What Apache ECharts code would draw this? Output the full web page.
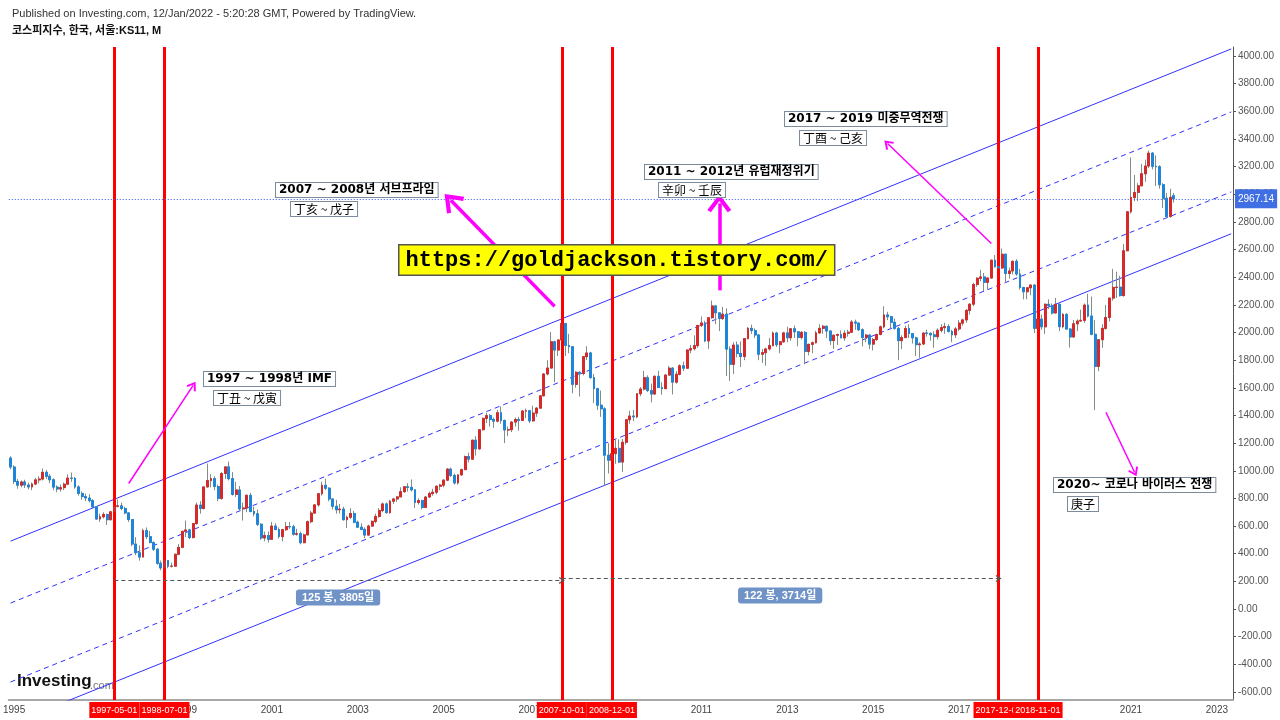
<!DOCTYPE html>
<html>
<head>
<meta charset="utf-8">
<script src="https://cdn.jsdelivr.net/npm/echarts@6/dist/echarts.min.js"></script>
<style>
  html, body { margin: 0; background: #fff; }
  #chart { width: 1280px; height: 720px; }
</style>
</head>
<body>
<div id="chart"></div>
<script>
// 월봉 카테고리 (1994-12 ~ 2023-05)
const months = [];
for (let y = 1994, m = 12; y < 2023 || (y === 2023 && m <= 5);) {
  months.push(y + '-' + String(m).padStart(2, '0'));
  m++;
  if (m > 12) { m = 1; y++; }
}

// KOSPI monthly [open, close, low, high]
const candles = [
  [1092, 1027, 1010, 1105],
  // 1995
  [1027, 923, 905, 1040], [923, 896, 870, 940], [896, 919, 880, 930], [919, 897, 875, 935],
  [897, 883, 865, 915], [883, 904, 860, 915], [904, 934, 895, 950], [934, 940, 910, 960],
  [940, 989, 930, 1016], [989, 960, 940, 1005], [960, 935, 910, 975], [935, 882, 860, 945],
  // 1996
  [882, 868, 845, 895], [868, 878, 850, 900], [878, 903, 860, 915], [903, 947, 895, 975],
  [947, 945, 920, 987], [945, 883, 870, 955], [883, 836, 820, 895], [836, 813, 790, 850],
  [813, 803, 780, 835], [803, 784, 770, 830], [784, 739, 730, 795], [739, 651, 645, 745],
  // 1997
  [651, 667, 630, 690], [667, 684, 655, 700], [684, 646, 608, 690], [646, 703, 640, 710],
  [703, 743, 695, 760], [743, 746, 735, 792], [746, 727, 715, 770], [727, 695, 685, 740],
  [695, 647, 630, 700], [647, 470, 455, 650], [470, 407, 390, 520], [407, 376, 350, 460],
  // 1998
  [376, 567, 374, 580], [567, 523, 505, 590], [523, 481, 475, 565], [481, 433, 420, 490],
  [433, 331, 320, 440], [331, 297, 280, 350], [297, 351, 290, 370], [351, 310, 295, 355],
  [310, 310, 300, 335], [310, 396, 305, 400], [396, 446, 390, 470], [446, 562, 440, 565],
  // 1999
  [562, 572, 520, 640], [572, 517, 505, 580], [517, 618, 510, 620], [618, 752, 610, 770],
  [752, 727, 690, 780], [727, 883, 720, 885], [883, 929, 880, 1052], [929, 943, 880, 975],
  [943, 886, 860, 960], [886, 800, 780, 900], [800, 980, 790, 990], [980, 1028, 940, 1030],
  // 2000
  [1028, 943, 930, 1066], [943, 829, 820, 990], [829, 861, 810, 920], [861, 725, 710, 890],
  [725, 731, 640, 770], [731, 822, 700, 830], [822, 705, 700, 840], [705, 689, 670, 740],
  [689, 613, 600, 720], [613, 514, 500, 620], [514, 532, 490, 560], [532, 504, 480, 560],
  // 2001
  [504, 600, 500, 630], [600, 575, 570, 620], [575, 524, 510, 590], [524, 574, 490, 580],
  [574, 596, 565, 630], [596, 595, 580, 630], [595, 541, 530, 610], [541, 545, 530, 580],
  [545, 480, 468, 560], [480, 536, 475, 545], [536, 632, 535, 640], [632, 694, 620, 710],
  // 2002
  [694, 753, 690, 760], [753, 834, 740, 840], [834, 895, 820, 920], [895, 874, 860, 943],
  [874, 796, 780, 880], [796, 743, 720, 800], [743, 718, 690, 790], [718, 723, 690, 760],
  [723, 646, 640, 740], [646, 664, 585, 675], [664, 691, 650, 730], [691, 628, 620, 710],
  // 2003
  [628, 592, 585, 640], [592, 576, 570, 620], [576, 535, 512, 590], [535, 600, 530, 610],
  [600, 634, 595, 640], [634, 670, 620, 690], [670, 713, 660, 730], [713, 760, 700, 770],
  [760, 697, 690, 770], [697, 780, 690, 790], [780, 796, 760, 805], [796, 811, 775, 815],
  // 2004
  [811, 849, 810, 880], [849, 884, 840, 890], [884, 880, 850, 910], [880, 862, 850, 937],
  [862, 770, 730, 865], [770, 785, 755, 800], [785, 735, 720, 790], [735, 810, 730, 815],
  [810, 835, 805, 850], [835, 845, 820, 870], [845, 888, 830, 895], [888, 896, 860, 905],
  // 2005
  [896, 932, 880, 940], [932, 1012, 925, 1020], [1012, 966, 955, 1023], [966, 912, 900, 980],
  [912, 970, 900, 975], [970, 1008, 965, 1015], [1008, 1103, 1005, 1110], [1103, 1084, 1060, 1130],
  [1084, 1221, 1080, 1225], [1221, 1159, 1110, 1250], [1159, 1297, 1150, 1300], [1297, 1379, 1290, 1385],
  // 2006
  [1379, 1399, 1345, 1420], [1399, 1371, 1320, 1410], [1371, 1359, 1310, 1385], [1359, 1420, 1350, 1440],
  [1420, 1364, 1340, 1465], [1364, 1295, 1200, 1370], [1295, 1297, 1250, 1320], [1297, 1352, 1280, 1360],
  [1352, 1371, 1320, 1385], [1371, 1364, 1290, 1390], [1364, 1432, 1360, 1440], [1432, 1434, 1380, 1450],
  // 2007
  [1434, 1361, 1345, 1440], [1361, 1417, 1355, 1470], [1417, 1453, 1390, 1460], [1453, 1542, 1450, 1545],
  [1542, 1700, 1540, 1705], [1700, 1743, 1690, 1800], [1743, 1933, 1740, 2004], [1933, 1873, 1640, 1940],
  [1873, 1946, 1830, 1950], [1946, 2065, 1940, 2085], [2065, 1906, 1830, 2070], [1906, 1897, 1850, 1990],
  // 2008
  [1897, 1625, 1560, 1900], [1625, 1712, 1600, 1720], [1712, 1704, 1537, 1720], [1704, 1825, 1690, 1830],
  [1825, 1852, 1800, 1901], [1852, 1674, 1665, 1860], [1674, 1594, 1489, 1700], [1594, 1474, 1440, 1600],
  [1474, 1448, 1390, 1580], [1448, 1113, 892, 1460], [1113, 1076, 980, 1200], [1076, 1124, 1040, 1215],
  // 2009
  [1124, 1162, 1050, 1230], [1162, 1063, 1055, 1227], [1063, 1206, 992, 1230], [1206, 1369, 1190, 1370],
  [1369, 1396, 1340, 1435], [1396, 1390, 1360, 1440], [1390, 1557, 1380, 1560], [1557, 1591, 1540, 1605],
  [1591, 1673, 1580, 1723], [1673, 1580, 1570, 1690], [1580, 1555, 1495, 1630], [1555, 1683, 1550, 1690],
  // 2010
  [1683, 1602, 1600, 1723], [1602, 1594, 1550, 1640], [1594, 1692, 1590, 1700], [1692, 1742, 1690, 1757],
  [1742, 1641, 1552, 1750], [1641, 1698, 1630, 1720], [1698, 1759, 1690, 1770], [1759, 1742, 1720, 1790],
  [1742, 1873, 1740, 1880], [1873, 1883, 1850, 1910], [1883, 1905, 1870, 1980], [1905, 2051, 1890, 2055],
  // 2011
  [2051, 2069, 2040, 2116], [2069, 1939, 1930, 2085], [1939, 2107, 1882, 2110], [2107, 2192, 2100, 2231],
  [2192, 2142, 2060, 2200], [2142, 2101, 2010, 2145], [2101, 2133, 2090, 2185], [2133, 1880, 1685, 2175],
  [1880, 1770, 1650, 1900], [1770, 1909, 1700, 1930], [1909, 1848, 1820, 1935], [1848, 1826, 1750, 1935],
  // 2012
  [1826, 1956, 1800, 1960], [1956, 2030, 1950, 2040], [2030, 2014, 1990, 2057], [2014, 1982, 1960, 2030],
  [1982, 1843, 1800, 1990], [1843, 1854, 1780, 1880], [1854, 1881, 1760, 1890], [1881, 1905, 1870, 1960],
  [1905, 1996, 1900, 2007], [1996, 1912, 1895, 2005], [1912, 1933, 1850, 1940], [1933, 1997, 1925, 2005],
  // 2013
  [1997, 1962, 1930, 2042], [1962, 2027, 1940, 2030], [2027, 2005, 1960, 2050], [2005, 1964, 1900, 2010],
  [1964, 2001, 1950, 2010], [2001, 1863, 1770, 2010], [1863, 1914, 1835, 1920], [1914, 1926, 1850, 1935],
  [1926, 1997, 1920, 2012], [1997, 2030, 1990, 2060], [2030, 2045, 1990, 2055], [2045, 2011, 1960, 2050],
  // 2014
  [2011, 1941, 1910, 2015], [1941, 1980, 1880, 1985], [1980, 1986, 1910, 1990], [1986, 1961, 1960, 2015],
  [1961, 1995, 1940, 2015], [1995, 2002, 1970, 2020], [2002, 2076, 1995, 2090], [2076, 2068, 2020, 2093],
  [2068, 2020, 2010, 2070], [2020, 1964, 1900, 2030], [1964, 1981, 1930, 1990], [1981, 1916, 1880, 1990],
  // 2015
  [1916, 1949, 1870, 1960], [1949, 1986, 1940, 1990], [1986, 2041, 1980, 2050], [2041, 2127, 2030, 2190],
  [2127, 2114, 2090, 2150], [2114, 2074, 2030, 2120], [2074, 2030, 2020, 2100], [2030, 1941, 1800, 2040],
  [1941, 1963, 1880, 1980], [1963, 2029, 1960, 2050], [2029, 1992, 1960, 2060], [1992, 1961, 1920, 1995],
  // 2016
  [1961, 1912, 1830, 1970], [1912, 1917, 1817, 1930], [1917, 1996, 1910, 2000], [1996, 1994, 1970, 2020],
  [1994, 1983, 1940, 2000], [1983, 1970, 1890, 2010], [1970, 2016, 1950, 2030], [2016, 2035, 2000, 2060],
  [2035, 2043, 1990, 2070], [2043, 2008, 2000, 2060], [2008, 1983, 1930, 2020], [1983, 2026, 1960, 2040],
  // 2017
  [2026, 2068, 2010, 2090], [2068, 2091, 2050, 2100], [2091, 2160, 2070, 2170], [2160, 2205, 2130, 2210],
  [2205, 2347, 2190, 2360], [2347, 2392, 2330, 2400], [2392, 2402, 2370, 2453], [2402, 2363, 2300, 2430],
  [2363, 2394, 2310, 2400], [2394, 2523, 2390, 2527], [2523, 2476, 2470, 2560], [2476, 2467, 2410, 2520],
  // 2018
  [2467, 2566, 2460, 2607], [2566, 2427, 2360, 2570], [2427, 2445, 2390, 2470], [2445, 2515, 2420, 2520],
  [2515, 2423, 2410, 2530], [2423, 2326, 2310, 2460], [2326, 2295, 2240, 2330], [2295, 2323, 2240, 2330],
  [2323, 2343, 2270, 2350], [2343, 2030, 1996, 2350], [2030, 2097, 2010, 2110], [2097, 2041, 2020, 2130],
  // 2019
  [2041, 2204, 1990, 2210], [2204, 2195, 2170, 2240], [2195, 2141, 2130, 2210], [2141, 2204, 2140, 2250],
  [2204, 2042, 2010, 2210], [2042, 2131, 2030, 2140], [2131, 2025, 2020, 2140], [2025, 1968, 1891, 2030],
  [1968, 2063, 1960, 2090], [2063, 2083, 2010, 2095], [2083, 2088, 2080, 2165], [2088, 2198, 2070, 2210],
  // 2020
  [2198, 2119, 2110, 2280], [2119, 1987, 1980, 2260], [1987, 1755, 1439, 2090], [1755, 1948, 1720, 1950],
  [1948, 2030, 1890, 2060], [2030, 2108, 2020, 2200], [2108, 2249, 2080, 2250], [2249, 2326, 2230, 2460],
  [2326, 2328, 2250, 2440], [2328, 2267, 2260, 2410], [2267, 2591, 2260, 2640], [2591, 2873, 2590, 2880],
  // 2021
  [2873, 2976, 2860, 3266], [2976, 3013, 2950, 3140], [3013, 3061, 2950, 3080], [3061, 3148, 3060, 3220],
  [3148, 3204, 3090, 3250], [3204, 3297, 3190, 3316], [3297, 3202, 3180, 3306], [3202, 3199, 3060, 3280],
  [3199, 3069, 3040, 3210], [3069, 2971, 2900, 3080], [2971, 2839, 2830, 3010], [2839, 2978, 2830, 3040],
  // 2022-01
  [2990, 2967, 2940, 3010]
];

const lastPrice = 2967.14;

// 이벤트 (빨간 세로선)
const eventDates = ['1997-05-01', '1998-07-01', '2007-10-01', '2008-12-01', '2017-12-01', '2018-11-01'];

// 채널 (왼쪽 끝 값, 오른쪽 끝 값)
const channelSolidUp = [491, 4051];
const channelDashUp = [43, 3595];
const channelDashLow = [-528, 3017];
const channelSolidLow = [-830, 2714];

// 기간 측정 [시작, 끝, 값, 라벨]
const ranges = [
  ['1997-05', '2007-10', 207, '125 봉, 3805일'],
  ['2007-10', '2017-12', 221, '122 봉, 3714일']
];

// 화살표 [꼬리 월, 꼬리 값, 머리 월, 머리 값, 굵기]
const arrows = [
  ['1997-09', 908, '1999-03', 1617, 1.5],
  ['2007-08', 2189, '2005-03', 2956, 3.5],
  ['2011-06', 2305, '2011-06', 2934, 3.5],
  ['2017-10', 2644, '2015-05', 3367, 1.5],
  ['2020-06', 1423, '2021-02', 989, 1.5]
];

const chevron = 'path://M10,0 L20,14 L17,16 L10,6 L3,16 L0,14 Z';
const bodies = candles.map(([o, c]) => [o, c, Math.min(o, c), Math.max(o, c)]);
const oddJan = (i, v) => v.endsWith('-01') && (+v.slice(0, 4)) % 2 === 1;
const first = months[0], last = months[months.length - 1];

function channel(vals, dashed) {
  return {
    type: 'line', silent: true, symbol: 'none', xAxisIndex: 0, yAxisIndex: 0,
    data: [[first, vals[0]], [last, vals[1]]],
    lineStyle: { color: '#3232ff', width: 1, type: dashed ? [5, 4] : 'solid' },
    z: 3
  };
}

const chart = echarts.init(document.getElementById('chart'));
chart.setOption({
  animation: false,
  backgroundColor: '#fff',
  grid: [
    { left: 4, right: 47, top: 47, bottom: 20 },
    { left: 4, right: 47, top: 56, bottom: 28 }
  ],
  xAxis: [
    {
      type: 'category', gridIndex: 0, data: months, boundaryGap: true,
      axisLine: { onZero: false, lineStyle: { color: '#a8a8a8', width: 2 } },
      axisTick: { interval: oddJan, alignWithLabel: true, length: 3, lineStyle: { color: '#a8a8a8' } },
      axisLabel: { interval: oddJan, formatter: v => v.slice(0, 4), color: '#444', fontSize: 10, margin: 5, fontFamily: 'Liberation Sans' },
      splitLine: { show: false }
    },
    {
      type: 'value', gridIndex: 1, min: 0, max: 1, show: false,
      axisLine: { show: false, onZero: false }, splitLine: { show: false }
    }
  ],
  yAxis: [
    {
      type: 'value', gridIndex: 0, position: 'right', min: -658, max: 4065,
      axisLine: { show: true, onZero: false, lineStyle: { color: '#555', width: 1 } },
      axisTick: { show: false }, axisLabel: { show: false }, splitLine: { show: false }
    },
    {
      type: 'value', gridIndex: 1, position: 'right', min: -600, max: 4000, interval: 200,
      axisLine: { show: false, onZero: false },
      axisTick: { show: true, length: 3, lineStyle: { color: '#555' } },
      axisLabel: { formatter: v => v.toFixed(2), color: '#555', fontSize: 10, margin: 5, fontFamily: 'Liberation Sans' },
      splitLine: { show: false }
    }
  ],
  series: [
    {
      name: 'wick', type: 'candlestick', xAxisIndex: 0, yAxisIndex: 0, data: candles, barWidth: 2.4, silent: true,
      itemStyle: { color: '#7f8f86', color0: '#7f8f86', borderColor: '#7f8f86', borderColor0: '#7f8f86', borderWidth: 1 },
      z: 4
    },
    {
      name: 'body', type: 'candlestick', xAxisIndex: 0, yAxisIndex: 0, data: bodies, barWidth: 2.4, silent: true,
      itemStyle: { color: '#d42a2a', color0: '#1f85d8', borderColor: '#d42a2a', borderColor0: '#1f85d8', borderWidth: 1 },
      z: 5
    },
    channel(channelSolidUp, false),
    channel(channelDashUp, true),
    channel(channelDashLow, true),
    channel(channelSolidLow, false),
    {
      name: 'notes', type: 'line', xAxisIndex: 0, yAxisIndex: 0, data: [], silent: true, z: 6,
      markLine: {
        silent: true, animation: false, symbol: ['none', 'none'],
        data: [
          ...eventDates.map(d => ({
            xAxis: d.slice(0, 7),
            lineStyle: { color: '#ff0000', width: 3, type: 'solid' },
            label: {
              show: true, position: 'start', formatter: d, distance: 2,
              color: '#fff', backgroundColor: '#ff0000', padding: [4, 2, 3, 2],
              fontSize: 9, fontFamily: 'Liberation Sans'
            }
          })),
          {
            yAxis: lastPrice,
            lineStyle: { color: '#2f55ff', width: 1, type: [1, 2] },
            label: {
              show: true, position: 'end', formatter: lastPrice.toFixed(2), distance: 2,
              color: '#fff', backgroundColor: '#3f6fe3', padding: [5, 3, 4, 3],
              fontSize: 10, fontFamily: 'Liberation Sans'
            }
          },
          ...ranges.map(([a, b, v, t]) => [
            {
              coord: [a, v], symbol: 'none',
              lineStyle: { color: '#555', width: 1, type: [4, 3] },
              label: {
                show: true, position: 'insideMiddleBottom', formatter: t, distance: 9,
                color: '#fff', backgroundColor: '#6f93c7', padding: [3, 6, 2, 6], borderRadius: 3,
                fontSize: 11, fontWeight: 'bold', fontFamily: 'Liberation Sans, Noto Sans CJK KR'
              }
            },
            { coord: [b, v], symbol: chevron, symbolSize: [7, 6] }
          ]),
          ...arrows.map(([a, av, b, bv, w]) => [
            {
              coord: [a, av], symbol: 'none',
              lineStyle: { color: '#ff00ff', width: w, type: 'solid' },
              label: { show: false }
            },
            { coord: [b, bv], symbol: chevron, symbolSize: w > 2 ? [24, 18] : [11, 9] }
          ])
        ]
      }
    }
  ],
  graphic: [
    {
      type: 'text', left: 12, top: 8,
      style: { text: 'Published on Investing.com, 12/Jan/2022 - 5:20:28 GMT, Powered by TradingView.', font: '11px "Liberation Sans"', fill: '#333' }
    },
    {
      type: 'text', left: 12, top: 25,
      style: { text: '코스피지수, 한국, 서울:KS11, M', font: 'bold 11px "Liberation Sans", "Noto Sans CJK KR"', fill: '#111' }
    },
    {
      type: 'text', left: 17, top: 673,
      style: { text: 'Investing', font: 'bold 17px "Liberation Sans"', fill: '#111' }
    },
    {
      type: 'text', left: 90, top: 680,
      style: { text: '.com', font: '11px "Liberation Sans"', fill: '#777' }
    },
    {
      type: 'text', left: 398, top: 244, z: 20,
      style: {
        text: 'https://goldjackson.tistory.com/', font: 'bold 22px "Liberation Mono"', fill: '#000',
        backgroundColor: '#ffff00', borderColor: '#555', borderWidth: 1.5, padding: [4, 6, 3, 6]
      }
    },
    ...[
      [203, 371, '1997 ~ 1998년 IMF', true],
      [213, 390, '丁丑 ~ 戊寅', false],
      [275, 182, '2007 ~ 2008년 서브프라임', true],
      [290, 201, '丁亥 ~ 戊子', false],
      [644, 164, '2011 ~ 2012년 유럽재정위기', true],
      [658, 182, '辛卯 ~ 壬辰', false],
      [784, 111, '2017 ~ 2019 미중무역전쟁', true],
      [799, 130, '丁酉 ~ 己亥', false],
      [1053, 477, '2020~ 코로나 바이러스 전쟁', true],
      [1067, 496, '庚子', false]
    ].map(([x, y, t, b]) => ({
      type: 'text', left: x, top: y, z: 20,
      style: {
        text: t,
        font: b ? 'bold 12px "DejaVu Sans", "Noto Sans CJK KR"' : '12px "Noto Sans CJK KR"',
        fill: '#000', backgroundColor: '#fff', borderColor: '#7d8c9c', borderWidth: 1, padding: [1, 3, 1, 3]
      }
    }))
  ]
});
</script>
</body>
</html>
